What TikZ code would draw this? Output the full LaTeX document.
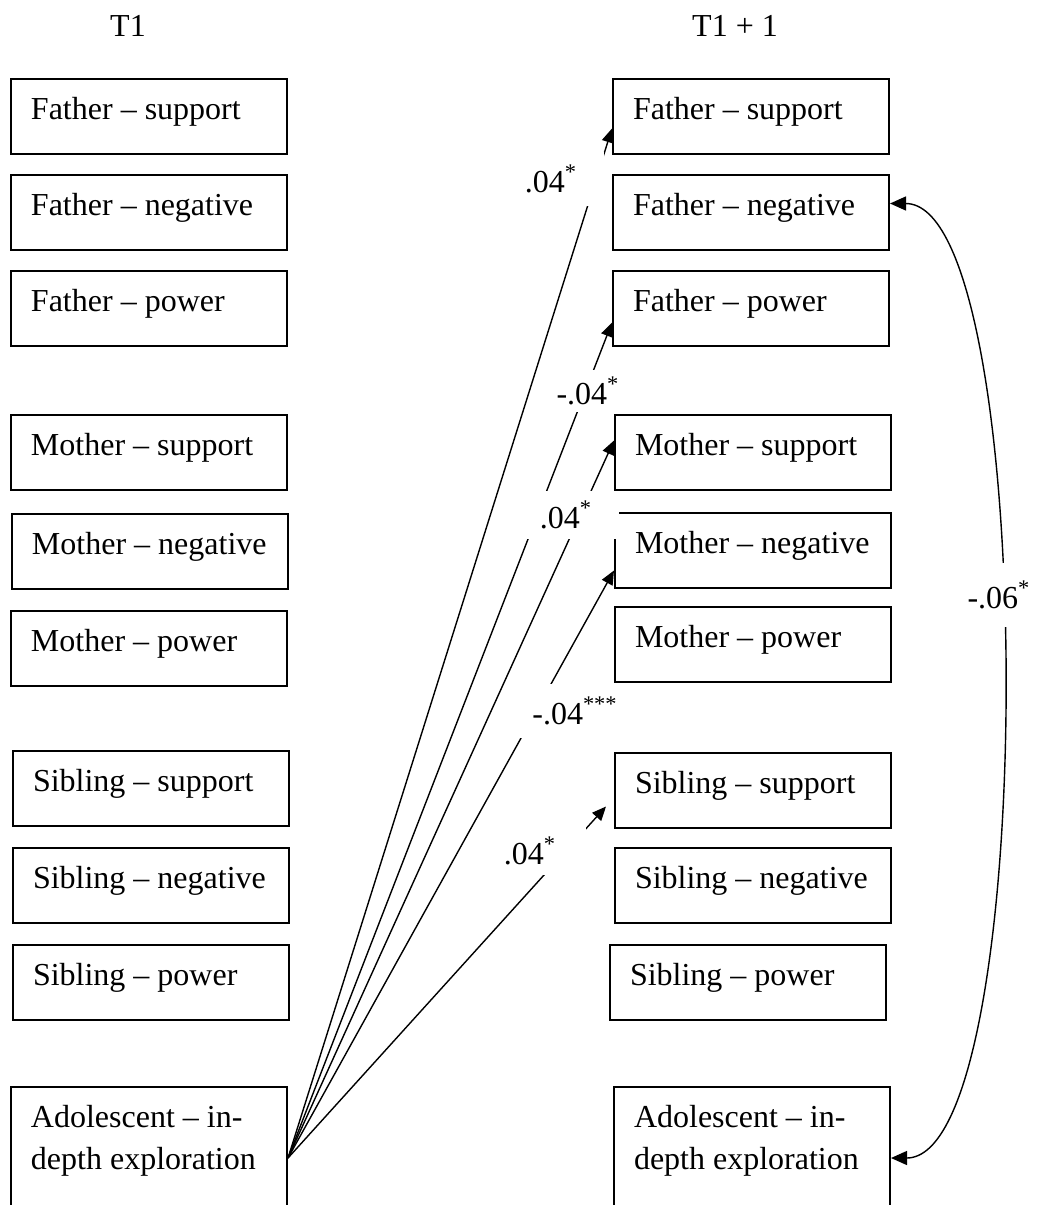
\documentclass[tikz,border=0pt]{standalone}
\usepackage{fontspec}
\setmainfont{Liberation Serif}
\usetikzlibrary{arrows.meta}

\begin{document}
\begin{tikzpicture}[x=0.5pt,y=-0.5pt,
    font=\fontsize{16}{21}\selectfont,
    box/.style={draw,line width=1pt,anchor=north west,inner xsep=10pt,inner ysep=0pt,
        text width=118pt,align=flush left,text height=20pt,text depth=17.5pt},
    tall/.style={text depth=51pt},
    conn/.style={line width=0.7pt,-{Triangle[length=7pt,width=6pt]}},
    coef/.style={fill=white,inner sep=0pt}]
    
    \clip (0,0) rectangle (1038,1205);
    
    \node[anchor=base] (t1) at (128,36) {T1};
    \node[anchor=base] (t2) at (735,36) {T1 + 1};
    
    \node[box] (fs1) at (10,78) {Father -- support};
    \node[box] (fn1) at (10,174) {Father -- negative};
    \node[box] (fp1) at (10,270) {Father -- power};
    \node[box] (ms1) at (10,414) {Mother -- support};
    \node[box] (mn1) at (11,513) {Mother -- negative};
    \node[box] (mp1) at (10,610) {Mother -- power};
    \node[box] (ss1) at (12,750) {Sibling -- support};
    \node[box] (sn1) at (12,847) {Sibling -- negative};
    \node[box] (sp1) at (12,944) {Sibling -- power};
    \node[box,tall] (ad1) at (10,1086) {Adolescent -- in-\\depth exploration};
    
    \node[box] (fs2) at (612,78) {Father -- support};
    \node[box] (fn2) at (612,174) {Father -- negative};
    \node[box] (fp2) at (612,270) {Father -- power};
    \node[box] (ms2) at (614,414) {Mother -- support};
    \node[box] (mn2) at (614,512) {Mother -- negative};
    \node[box] (mp2) at (614,606) {Mother -- power};
    \node[box] (ss2) at (614,752) {Sibling -- support};
    \node[box] (sn2) at (614,847) {Sibling -- negative};
    \node[box] (sp2) at (609,944) {Sibling -- power};
    \node[box,tall] (ad2) at (613,1086) {Adolescent -- in-\\depth exploration};
    
    % cross-lagged paths
    \draw[conn] (ad1.east) -- ([yshift=-6pt]fs2.west);
    \draw[conn] (ad1.east) -- ([yshift=-7pt]fp2.west);
    \draw[conn] (ad1.east) -- ([yshift=6pt]ms2.west);
    \draw[conn] (ad1.east) -- ([yshift=-10pt]mn2.west);
    \draw[conn] (ad1.east) -- ([xshift=-4pt,yshift=-8pt]ss2.west);
    
    \draw[line width=0.7pt,{Triangle[length=8pt,width=7pt]}-{Triangle[length=8pt,width=7pt]}]
        ([yshift=4.5pt]fn2.east) .. controls +(149,0) and +(149,0) .. (ad2.east);
    
    \node[coef,minimum width=53pt,minimum height=27pt] (cfs) at (551,179) {.04\textsuperscript{*}};
    \node[coef,minimum width=32pt,minimum height=21pt] (cfp) at (588,391) {-.04\textsuperscript{*}};
    \node[coef,minimum width=53pt,minimum height=24pt] (cms) at (566,515) {.04\textsuperscript{*}};
    \node[coef,minimum width=60pt,minimum height=27pt] (cmn) at (575,711) {-.04\textsuperscript{***}};
    \node[coef,minimum width=56pt,minimum height=24pt] (css) at (530,851) {.04\textsuperscript{*}};
    \node[coef,minimum width=33pt,minimum height=32pt] (cad) at (999,595) {-.06\textsuperscript{*}};
    
\end{tikzpicture}
\end{document}
